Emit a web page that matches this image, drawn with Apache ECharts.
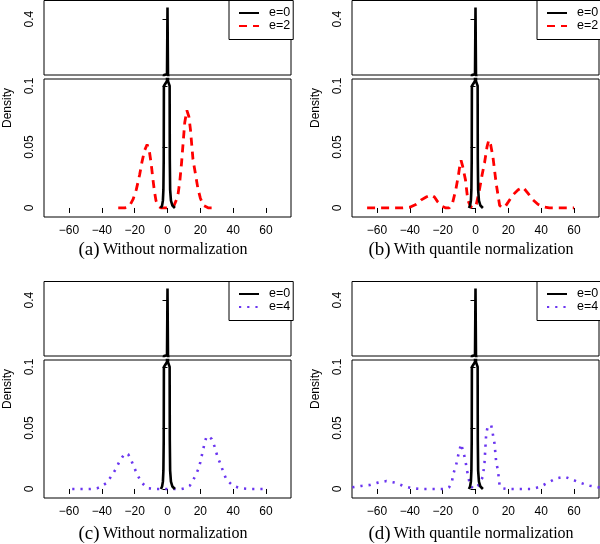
<!DOCTYPE html>
<html>
<head>
<meta charset="utf-8">
<script src="https://cdn.jsdelivr.net/npm/echarts@6/dist/echarts.min.js"></script>
<style>html,body{margin:0;padding:0;background:#fff}#c{width:600px;height:544px}</style>
</head>
<body>
<div id="c"></div>
<script>
// ---------- data ----------
const xTicks = [-60, -40, -20, 0, 20, 40, 60];
const yTicksTop = [0.4];
const yTicksBottom = [0, 0.05, 0.1];

// e=0 density (same in all panels)
const e0X = [-4.0, -3.3, -2.8, -2.5, -2.3, -2.2, -0.3, 0, 0.3, 1.3, 1.4, 1.6, 2.1, 3.0, 4.5];
const e0Y = [0, 0.002, 0.006, 0.015, 0.04, 0.1, 0.104, 0.462, 0.104, 0.1, 0.04, 0.015, 0.006, 0.002, 0];

// (a) e=2 without normalization
const e2RawX = [-30, -26, -23, -21, -19, -17, -15.5, -14, -12.4, -11, -10, -9, -8, -7, -6, -4, -1, 2, 4, 5.5, 6.5, 7.5, 8.5, 9.5, 10.5, 11.8, 13, 14, 15.5, 17, 18.5, 20, 22, 25, 29.5];
const e2RawY = [0, 0, 0.002, 0.007, 0.015, 0.027, 0.038, 0.047, 0.052, 0.046, 0.037, 0.025, 0.014, 0.006, 0.002, 0, 0, 0, 0.002, 0.007, 0.012, 0.022, 0.036, 0.053, 0.070, 0.080, 0.075, 0.064, 0.040, 0.028, 0.016, 0.008, 0.002, 0, 0];

// (b) e=2 with quantile normalization
const e2QnX = [-66, -55, -45, -40, -36, -33, -30, -27, -25, -23, -20.5, -18, -16, -14, -12, -10.5, -9.5, -8.8, -7.8, -6.1, -4.7, -3, -1, 0.5, 2.4, 4, 5.5, 7, 8.1, 9.2, 10.6, 12.6, 14.7, 16.5, 18, 20, 22.8, 26, 28.9, 32, 35, 38, 41, 45, 50, 55, 60];
const e2QnY = [0, 0, 0, 0.0006, 0.003, 0.0066, 0.009, 0.0107, 0.009, 0.005, 0.0015, 0, 0, 0.004, 0.015, 0.026, 0.035, 0.039, 0.034, 0.023, 0.0066, 0.001, 0, 0.003, 0.015, 0.027, 0.037, 0.05, 0.0557, 0.052, 0.042, 0.02, 0.002, 0, 0.001, 0.005, 0.0107, 0.015, 0.017, 0.012, 0.0066, 0.003, 0.001, 0, 0, 0, 0];

// (c) e=4 without normalization
const e4RawX = [-58, -52, -47, -43, -41.3, -37, -34, -31.6, -29.1, -26, -24, -22.4, -20.4, -18.5, -15.9, -12.2, -7.4, 0, 8.5, 11, 13.6, 16.7, 18.7, 20, 21.3, 22.5, 23.8, 25.5, 26.9, 28.9, 30.3, 32.4, 34.2, 36, 40, 44.6, 50, 55, 61];
const e4RawY = [0, 0, 0, 0.0005, 0.0014, 0.005, 0.011, 0.016, 0.023, 0.029, 0.0285, 0.0245, 0.018, 0.012, 0.0055, 0.0006, 0, 0, 0, 0.0008, 0.0027, 0.01, 0.016, 0.022, 0.030, 0.037, 0.0433, 0.0425, 0.041, 0.034, 0.027, 0.020, 0.013, 0.0074, 0.0025, 0.0006, 0, 0, 0];

// (d) e=4 with quantile normalization
const e4QnX = [-80, -75, -69.5, -64.3, -59.3, -54.2, -49, -44, -38.9, -33.8, -28.7, -23.6, -17.9, -16, -14.5, -13.4, -11.8, -10.8, -8.8, -7.3, -6.1, -5.3, -4.3, -3.3, -1, 1.4, 4.5, 5.5, 6.5, 7.5, 8.5, 9.6, 10.6, 11.6, 12.6, 13.6, 14.2, 14.7, 16.5, 19.1, 24.3, 29.3, 34.5, 39.5, 44.2, 49.3, 54.4, 59.4, 64.6, 69.6, 74.7, 80];
const e4QnY = [0.0007, 0.0014, 0.0025, 0.0033, 0.0052, 0.0065, 0.0052, 0.0025, 0.0006, 0, 0, 0, 0, 0.0015, 0.0052, 0.0128, 0.0196, 0.026, 0.037, 0.030, 0.023, 0.016, 0.0096, 0.0027, 0, 0.0025, 0.010, 0.022, 0.0447, 0.0518, 0.0525, 0.052, 0.0447, 0.037, 0.022, 0.0155, 0.009, 0.0025, 0.0005, 0, 0, 0, 0, 0.0019, 0.0052, 0.0087, 0.010, 0.0074, 0.0047, 0.0027, 0.0014, 0.0007];

const seriesNames = ['e=0', 'e=2', 'e=4'];
const panelLetters = ['(a)', '(b)', '(c)', '(d)'];
const panelTitles = ['Without normalization', 'With quantile normalization', 'Without normalization', 'With quantile normalization'];
const yLabel = 'Density';

// ---------- build ----------
const zip = (xs, ys) => xs.map((x, i) => [x, ys[i]]);
const panelData = [
  { X: e2RawX, Y: e2RawY, name: seriesNames[1], kind: 'dash' },
  { X: e2QnX, Y: e2QnY, name: seriesNames[1], kind: 'dash' },
  { X: e4RawX, Y: e4RawY, name: seriesNames[2], kind: 'dot' },
  { X: e4QnX, Y: e4QnY, name: seriesNames[2], kind: 'dot' }
];
const styles = {
  solid: { color: '#000000', width: 2.6, type: 'solid' },
  dash: { color: '#ff0000', width: 2.8, type: [8, 6] },
  dot: { color: '#6a35f0', width: 2.6, type: [2.2, 6] }
};
const titleYs = [250, 250, 534, 534];
const FONT = '"Liberation Sans", Arial, sans-serif';
const SERIF = '"Liberation Serif", "Times New Roman", serif';
const XMIN = -75.2, XMAX = 75.2;
const fmtX = v => (v < 0 ? '\u2212' + (-v) : String(v));

const grid = [], xAxis = [], yAxis = [], series = [], legend = [], graphic = [];
for (let p = 0; p < 4; p++) {
  const ox = (p % 2) * 308, oy = p < 2 ? 0 : 281;
  const gt = 2 * p, gb = 2 * p + 1;
  grid.push({ left: ox + 44, top: oy + 0.5, width: 247, height: 74.5, show: true, borderColor: '#000', borderWidth: 1, backgroundColor: 'transparent', outerBoundsMode: 'none' });
  grid.push({ left: ox + 44, top: oy + 79, width: 247, height: 138, show: true, borderColor: '#000', borderWidth: 1, backgroundColor: 'transparent', outerBoundsMode: 'none' });
  xAxis.push({ type: 'value', gridIndex: gt, min: XMIN, max: XMAX, show: true,
    axisLine: { show: false }, axisTick: { show: false }, axisLabel: { show: false }, splitLine: { show: false } });
  xAxis.push({ type: 'value', gridIndex: gb, min: XMIN, max: XMAX,
    axisLine: { show: false }, splitLine: { show: false },
    axisTick: { show: true, length: 5, customValues: xTicks, lineStyle: { color: '#000', width: 1 } },
    axisLabel: { show: true, customValues: xTicks, formatter: fmtX, color: '#000', fontSize: 12, fontFamily: FONT, margin: 8 } });
  yAxis.push({ type: 'value', gridIndex: gt, min: 0.1, max: 0.5,
    axisLine: { show: false }, splitLine: { show: false },
    axisTick: { show: true, length: 5, customValues: yTicksTop, lineStyle: { color: '#000', width: 1 } },
    axisLabel: { show: true, customValues: yTicksTop, rotate: 90, color: '#000', fontSize: 12, fontFamily: FONT, margin: 8 } });
  yAxis.push({ type: 'value', gridIndex: gb, min: -0.0074, max: 0.1057,
    axisLine: { show: false }, splitLine: { show: false },
    axisTick: { show: true, length: 5, customValues: yTicksBottom, lineStyle: { color: '#000', width: 1 } },
    axisLabel: { show: true, customValues: yTicksBottom, rotate: 90, color: '#000', fontSize: 12, fontFamily: FONT, margin: 8,
      formatter: v => String(+v.toFixed(4)) } });

  const pd = panelData[p];
  const other = styles[pd.kind];
  series.push({ type: 'line', name: seriesNames[0], xAxisIndex: gt, yAxisIndex: gt, data: zip(e0X, e0Y), symbol: 'none', clip: true, silent: true, lineStyle: styles.solid, itemStyle: { color: '#000' }, z: 3 });
  series.push({ type: 'line', name: seriesNames[0], xAxisIndex: gb, yAxisIndex: gb, data: zip(e0X, e0Y), symbol: 'none', clip: true, silent: true, lineStyle: styles.solid, itemStyle: { color: '#000' }, z: 3 });
  series.push({ type: 'line', name: pd.name, xAxisIndex: gb, yAxisIndex: gb, data: zip(pd.X, pd.Y), symbol: 'none', clip: true, silent: true, lineStyle: other, itemStyle: { color: other.color }, z: 2 });

  legend.push({ orient: 'vertical', left: ox + 229, top: oy + 0.5, data: [seriesNames[0], pd.name],
    itemWidth: 20, itemHeight: 12, itemGap: 0, padding: [6, 3, 7, 9], selectedMode: false,
    borderColor: '#000', borderWidth: 1, backgroundColor: '#fff',
    itemStyle: { opacity: 0 },
    textStyle: { fontSize: 12.5, fontFamily: FONT, color: '#000', padding: [0, 0, 0, 5] } });

  graphic.push({ type: 'text', x: ox + 8, y: oy + 108, rotation: Math.PI / 2,
    style: { text: yLabel, font: '12px ' + FONT, fill: '#000', align: 'center', verticalAlign: 'middle' } });
  graphic.push({ type: 'text', x: ox + 163, y: titleYs[p],
    style: { text: '{l|' + panelLetters[p] + '} {t|' + panelTitles[p] + '}', align: 'center', verticalAlign: 'middle',
      rich: { l: { fontSize: 19, fontFamily: SERIF, fill: '#000', color: '#000' }, t: { fontSize: 16, fontFamily: SERIF, fill: '#000', color: '#000' } } } });
}

const chart = echarts.init(document.getElementById('c'), null, { renderer: 'canvas' });
chart.setOption({ animation: false, backgroundColor: '#fff', grid, xAxis, yAxis, series, legend, graphic });
</script>
</body>
</html>
